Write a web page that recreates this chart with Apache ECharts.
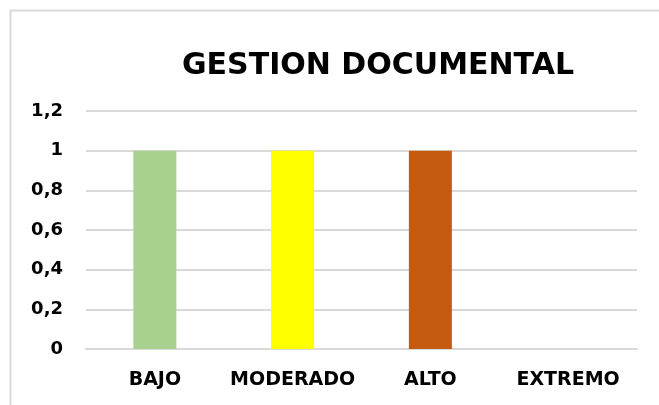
<!DOCTYPE html>
<html>
<head>
<meta charset="utf-8">
<script src="https://cdn.jsdelivr.net/npm/echarts@6/dist/echarts.min.js"></script>
<style>
  html, body { margin: 0; padding: 0; background: #fff; }
  #chart { width: 659px; height: 405px; }
</style>
</head>
<body>
<div id="chart"></div>
<script>
// datos
var categorias = ['BAJO', 'MODERADO', 'ALTO', 'EXTREMO'];
var valores = [1, 1, 1, 0];
var colores = ['#A9D18E', '#FFFF00', '#C55A11', '#7F7F7F'];

var chart = echarts.init(document.getElementById('chart'));
var option = {
  backgroundColor: '#fff',
  animation: false,
  graphic: [{
    type: 'rect',
    shape: { x: 10.5, y: 10.5, width: 700, height: 500 },
    style: { fill: 'none', stroke: '#d9d9d9', lineWidth: 2 },
    silent: true
  }],
  title: {
    text: 'GESTION DOCUMENTAL',
    left: 373,
    top: 46,
    textAlign: 'center',
    textStyle: {
      fontFamily: 'DejaVu Sans',
      fontWeight: 'bold',
      fontSize: 30,
      color: '#000'
    }
  },
  grid: { left: 86, right: 22, top: 111, bottom: 56, containLabel: false },
  xAxis: {
    type: 'category',
    data: categorias,
    axisLine: { lineStyle: { color: '#d9d9d9', width: 2 } },
    axisTick: { show: false },
    axisLabel: {
      interval: 0,
      margin: 22,
      color: '#000',
      fontFamily: 'DejaVu Sans',
      fontWeight: 'bold',
      fontSize: 19
    }
  },
  yAxis: {
    type: 'value',
    min: 0,
    max: 1.2,
    interval: 0.2,
    axisLine: { show: false },
    axisTick: { show: false },
    splitLine: { lineStyle: { color: '#d9d9d9', width: 2 } },
    axisLabel: {
      margin: 23,
      color: '#000',
      fontFamily: 'DejaVu Sans',
      fontWeight: 'bold',
      fontSize: 18,
      formatter: function (v) { return String(+v.toFixed(1)).replace('.', ','); }
    }
  },
  series: [{
    type: 'bar',
    data: valores.map(function (v, i) {
      return { value: v, itemStyle: { color: colores[i] } };
    }),
    barWidth: 43
  }]
};
chart.setOption(option);
</script>
</body>
</html>
